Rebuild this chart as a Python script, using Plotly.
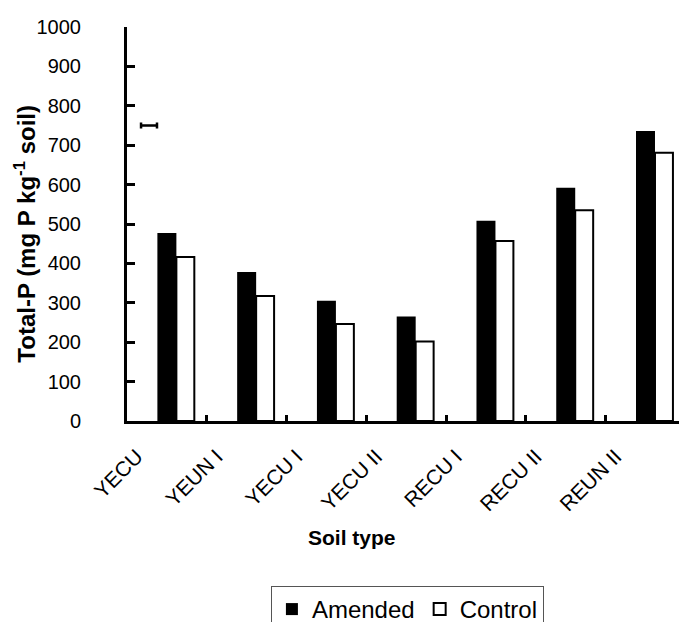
import plotly.graph_objects as go

categories = ["YECU", "YEUN I", "YECU I", "YECU II", "RECU I", "RECU II", "REUN II"]
amended = [477, 378, 305, 265, 508, 592, 736]
control = [416, 317, 246, 202, 457, 535, 681]
y_ticks = [0, 100, 200, 300, 400, 500, 600, 700, 800, 900, 1000]

# stray horizontal error bar visible in the original figure
stray_x = [-0.224]
stray_y = [750]
stray_err = [0.1]

FONT = "Liberation Sans, Arial, sans-serif"
xpos = list(range(len(categories)))
boundaries = [i + 0.5 for i in range(len(categories) - 1)]

fig = go.Figure()
fig.add_trace(go.Bar(
    x=xpos, y=amended, name="Amended",
    width=0.238, offset=-0.119,
    marker=dict(color="black", line=dict(color="black", width=0)),
))
fig.add_trace(go.Bar(
    x=xpos, y=control, name="Control",
    width=0.225, offset=0.119,
    marker=dict(color="white", line=dict(color="black", width=2)),
))
fig.add_trace(go.Scatter(
    x=stray_x, y=stray_y, mode="markers", showlegend=False,
    marker=dict(size=1, color="rgba(0,0,0,0)"),
    error_x=dict(type="data", array=stray_err, color="black", thickness=2.5, width=3),
    hoverinfo="skip",
))

fig.update_layout(
    width=679, height=622,
    margin=dict(l=127, r=0, t=26.5, b=201, pad=0),
    paper_bgcolor="white", plot_bgcolor="white",
    barmode="overlay",
    font=dict(family=FONT, color="black", size=20),
    showlegend=True,
    legend=dict(
        orientation="h", x=0.508, xanchor="center",
        yref="container", y=0.0579, yanchor="top",
        bordercolor="#555", borderwidth=1, font=dict(size=24, family=FONT),
        itemwidth=30, traceorder="normal",
    ),
    annotations=[
        dict(text="<b>Soil type</b>", xref="paper", yref="paper",
             x=0.4076, y=-0.2966, showarrow=False, font=dict(size=21, family=FONT),
             xanchor="center", yanchor="middle"),
        dict(text="<b>Total-P (mg P kg<sup>-1</sup> soil)</b>", xref="paper", yref="paper",
             x=-0.184, y=0.4766, showarrow=False, textangle=-90,
             font=dict(size=24, family=FONT), xanchor="center", yanchor="middle"),
    ],
)
fig.update_xaxes(
    range=[-0.5, 6.42], tickmode="array", tickvals=xpos, ticktext=categories,
    tickangle=-45, ticks="", showgrid=False, zeroline=False, automargin=False,
    showline=True, linecolor="black", linewidth=3,
    tickfont=dict(size=21, family=FONT),
    ticklabelstandoff=12, ticklabelshift=-30,
    minor=dict(tickmode="array", tickvals=boundaries, ticks="inside", ticklen=6,
               tickwidth=2.5, tickcolor="black", showgrid=False),
)
fig.update_yaxes(
    range=[0, 1000], tickmode="array", tickvals=y_ticks,
    ticks="inside", ticklen=8, tickwidth=3, tickcolor="black",
    showgrid=False, zeroline=False, automargin=False,
    showline=True, linecolor="black", linewidth=3,
    tickfont=dict(size=20, family=FONT),
    ticklabelstandoff=39,
)

fig.write_html(
    "out.html",
    config={"displayModeBar": False},
    post_script=(
        "document.documentElement.style.margin='0';"
        "document.documentElement.style.overflow='hidden';"
        "document.body.style.margin='0';"
        "document.body.style.overflow='hidden';"
    ),
)
